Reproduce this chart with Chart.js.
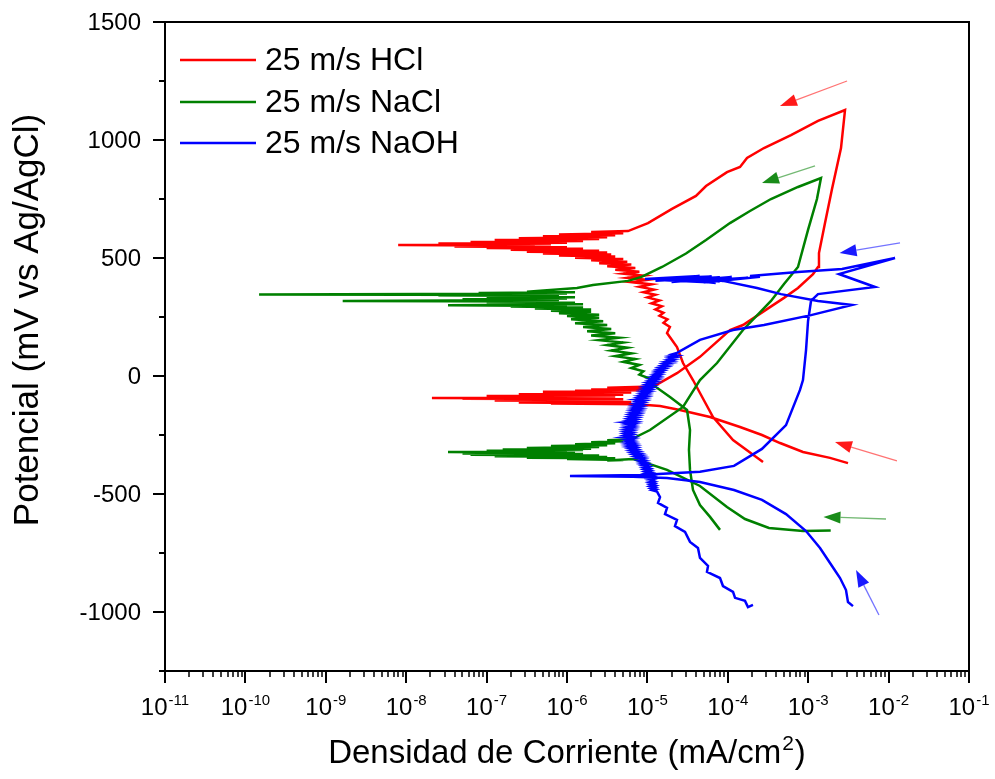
<!DOCTYPE html>
<html><head><meta charset="utf-8">
<script src="https://cdn.jsdelivr.net/npm/chart.js@4.4.0/dist/chart.umd.min.js"></script>
<style>html,body{margin:0;padding:0;background:#fff}#wrap{width:995px;height:779px}</style>
</head><body><div id="wrap"><canvas id="c" width="995" height="779"></canvas></div>
<script>
// ---- DATA (log10 of current density in mA/cm2, potential in mV vs Ag/AgCl) ----
const seriesNames = ['25 m/s HCl', '25 m/s NaCl', '25 m/s NaOH'];
const seriesColors = ['#FF0000', '#008000', '#0000FF'];

const hclPoints = [
[-2.505,-369],[-2.729,-347],[-3.065,-322],[-3.35,-284],[-3.575,-250],[-3.848,-216],[-4.221,-174],[-4.595,-144],[-4.843,-127],[-5.092,-121],
[-5.1,-120],[-6.2,-117],[-5.3,-115],[-6.6,-112],[-5.2,-110],[-6.0,-108],[-5.4,-106],[-6.9,-104],[-5.5,-102],[-6.4,-100],
[-5.3,-98],[-7.3,-96],[-5.6,-95],[-7.68,-93],[-5.7,-91],[-6.8,-89],[-5.4,-87],[-7.0,-85],[-5.6,-83],[-6.3,-81],
[-5.3,-79],[-6.6,-77],[-5.5,-75],[-6.0,-72],[-5.2,-70],[-6.3,-67],[-5.4,-65],[-5.9,-62],[-5.1,-60],[-5.7,-57],
[-5.0,-54],[-5.5,-50],[-4.93,-45],
[-4.85,-30],[-4.632,12],[-4.346,81],[-3.973,195],[-3.811,216],[-3.55,275],[-3.301,331],[-3.127,373],[-2.94,432],[-2.878,462],
[-2.866,521],[-2.791,648],[-2.704,792],[-2.592,966],[-2.542,1127],
[-2.878,1081],[-3.214,1021],[-3.55,966],[-3.761,924],[-3.848,886],[-4.01,864],[-4.271,805],[-4.396,763],[-4.694,708],[-4.993,648],
[-5.241,614],[-5.7,610],[-5.3,605],[-6.1,600],[-5.4,596],[-6.3,592],[-5.5,588],[-6.6,584],[-5.6,580],[-6.9,576],
[-5.8,572],[-7.2,568],[-6.0,565],[-7.6,561],[-6.2,558],[-8.1,555],[-6.4,552],[-7.4,549],[-6.0,546],[-7.0,542],
[-5.8,539],[-6.7,535],[-5.6,531],[-6.5,527],[-5.5,523],[-6.3,519],[-5.45,515],[-6.1,511],[-5.4,506],[-5.9,501],
[-5.3,496],[-5.7,490],[-5.25,484],[-5.6,478],[-5.2,472],[-5.5,465],[-5.15,458],[-5.4,450],[-5.1,442],[-5.3,434],
[-5.05,425],[-5.25,416],[-5.0,407],[-5.2,398],[-4.95,388],[-5.1,378],[-4.92,366],[-5.05,355],[-4.9,344],[-5.0,333],
[-4.85,320],[-4.95,308],[-4.82,295],[-4.9,282],[-4.8,268],[-4.85,255],[-4.75,240],[-4.8,225],[-4.72,208],[-4.756,182],
[-4.632,123],[-4.557,55],[-4.433,-17],[-4.346,-72],[-4.184,-174],[-3.935,-271],[-3.562,-364]
];

const naclPoints = [
[-2.72,-655],[-3.065,-657],[-3.488,-644],[-3.786,-606],[-4.01,-555],[-4.346,-466],[-4.756,-398],[-5.005,-369],[-5.179,-352],
[-5.5,-358],[-5.3,-356],[-6.0,-352],[-5.4,-349],[-6.5,-346],[-5.5,-343],[-6.9,-340],[-5.6,-337],[-7.2,-334],[-5.8,-331],
[-7.3,-328],[-5.9,-326],[-7.48,-322],[-6.0,-320],[-7.0,-317],[-5.8,-314],[-6.8,-311],[-5.7,-308],[-6.5,-305],[-5.6,-301],
[-6.2,-297],[-5.5,-293],[-5.9,-289],[-5.4,-285],[-5.7,-281],[-5.3,-277],[-5.5,-272],[-5.2,-268],
[-4.968,-229],[-4.557,-131],[-4.346,-17],[-4.134,55],[-3.811,195],[-3.463,318],[-3.301,390],[-3.127,462],[-3.002,619],[-2.891,750],[-2.841,839],
[-3.127,801],[-3.463,750],[-3.724,699],[-3.973,648],[-4.271,576],[-4.52,519],[-4.818,462],[-5.073,420],[-5.241,403],[-5.677,386],[-5.876,373],[-6.498,357],
[-5.9,355],[-7.1,352],[-6.0,350],[-6.8,348],[-9.83,345],[-6.2,343],[-7.6,341],[-6.1,339],[-7.0,336],[-5.9,334],
[-6.6,331],[-6.0,328],[-7.3,325],[-6.1,322],[-8.79,318],[-6.2,316],[-7.0,313],[-5.9,310],[-6.5,307],[-5.8,304],
[-7.48,300],[-6.0,297],[-6.7,294],[-5.8,290],[-6.4,286],[-5.7,282],[-6.2,277],[-5.7,272],[-6.1,266],[-5.6,260],
[-6.0,254],[-5.6,247],[-5.95,240],[-5.55,232],[-5.9,224],[-5.5,216],[-5.8,208],[-5.45,199],[-5.75,190],[-5.4,181],
[-5.7,172],[-5.35,162],[-5.6,152],[-5.3,142],[-5.5,131],[-5.25,120],[-5.45,108],[-5.2,96],[-5.4,84],[-5.15,72],
[-5.3,60],[-5.1,47],[-5.2,34],[-5.05,20],[-5.1,6],[-4.98,-10],[-4.93,-38],[-4.719,-89],
[-4.507,-144],[-4.47,-229],[-4.483,-313],[-4.47,-398],[-4.433,-483],[-4.346,-547],[-4.221,-597],[-4.097,-652]
];

const naohPoints = [
[-2.443,-975],[-2.505,-958],[-2.53,-907],[-2.604,-856],[-2.679,-818],[-2.853,-729],[-3.027,-657],[-3.276,-585],[-3.575,-525],[-3.923,-483],
[-4.346,-449],[-4.756,-432],[-5.179,-427],[-5.963,-424],[-5.092,-419],[-4.346,-406],[-3.923,-381],[-3.575,-309],[-3.276,-208],[-3.102,-59],
[-3.065,-17],[-3.027,110],[-3.002,233],[-2.965,318],[-2.878,347],[-2.169,377],[-2.617,432],[-1.92,500],
[-2.579,453],[-3.127,441],[-3.724,424],[-3.6,420],[-4.3,396],[-3.75,416],[-4.5,400],[-3.95,420],[-4.7,398],[-4.1,418],
[-4.9,404],[-4.2,422],[-5.03,411],[-4.35,424],[-4.85,407],[-4.25,397],[-4.7,414],[-4.15,394],[-4.55,417],[-4.1,400],
[-4.4,419],[-4.06,403],[-3.637,373],[-3.338,347],[-2.878,318],[-2.455,301],[-2.965,258],[-3.55,216],
[-3.935,195],[-4.346,153],[-4.632,98],
[-4.69,92],[-4.63,88],[-4.71,84],[-4.65,80],[-4.72,76],[-4.67,72],[-4.74,68],[-4.69,64],[-4.77,60],[-4.71,56],
[-4.79,52],[-4.74,48],[-4.81,44],[-4.76,40],[-4.84,36],[-4.79,32],[-4.86,28],[-4.81,24],[-4.88,20],[-4.83,16],
[-4.89,12],[-4.84,8],[-4.91,4],[-4.86,0],[-4.93,-4],[-4.87,-8],[-4.95,-12],[-4.89,-16],[-4.96,-20],[-4.9,-24],
[-4.99,-28],[-4.93,-32],[-5.0,-36],[-4.94,-40],[-5.02,-44],[-4.95,-48],[-5.03,-52],[-4.97,-56],[-5.05,-60],[-4.98,-64],
[-5.06,-68],[-5.0,-72],[-5.07,-76],[-5.01,-80],[-5.09,-84],[-5.02,-88],[-5.1,-92],[-5.04,-96],[-5.14,-100],[-5.05,-104],
[-5.12,-108],[-5.06,-112],[-5.14,-116],[-5.07,-120],[-5.15,-124],[-5.08,-128],[-5.16,-132],[-5.09,-136],[-5.17,-140],[-5.1,-144],
[-5.18,-148],[-5.11,-152],[-5.19,-156],[-5.12,-160],[-5.2,-164],[-5.13,-168],[-5.21,-172],[-5.14,-176],[-5.22,-180],[-5.15,-184],
[-5.23,-188],[-5.16,-192],[-5.28,-196],[-5.17,-200],[-5.25,-204],[-5.18,-208],[-5.25,-212],[-5.18,-216],[-5.26,-220],[-5.19,-224],
[-5.27,-228],[-5.2,-232],[-5.27,-236],[-5.2,-240],[-5.27,-244],[-5.2,-248],[-5.27,-252],[-5.2,-256],[-5.3,-260],[-5.19,-264],
[-5.26,-268],[-5.19,-272],[-5.25,-276],[-5.18,-280],[-5.25,-284],[-5.17,-288],[-5.24,-292],[-5.16,-296],[-5.23,-300],[-5.15,-304],
[-5.21,-308],[-5.14,-312],[-5.2,-316],[-5.12,-320],[-5.18,-324],[-5.1,-328],[-5.16,-332],[-5.08,-336],[-5.14,-340],[-5.06,-344],
[-5.12,-348],[-5.05,-352],[-5.1,-356],[-5.03,-360],[-5.08,-364],[-5.02,-368],[-5.07,-372],[-5.0,-376],[-5.05,-380],[-4.99,-384],
[-5.04,-388],[-4.98,-392],[-5.03,-396],[-4.97,-400],[-5.02,-404],[-4.96,-408],[-5.01,-412],[-4.95,-416],[-5.0,-420],[-4.94,-424],
[-4.99,-428],[-4.93,-432],[-4.98,-436],[-4.93,-440],[-4.97,-444],[-4.92,-448],[-4.97,-452],[-4.92,-456],[-4.96,-460],[-4.91,-464],
[-4.96,-468],[-4.91,-472],[-4.95,-476],[-4.9,-480],[-4.94,-484],[-4.88,-490],
[-4.843,-513],[-4.868,-538],[-4.756,-559],[-4.781,-585],[-4.632,-610],[-4.657,-636],[-4.532,-661],
[-4.47,-703],[-4.371,-729],[-4.346,-771],[-4.246,-805],[-4.259,-830],[-4.097,-856],[-4.06,-890],[-3.935,-915],[-3.91,-940],[-3.786,-953],
[-3.749,-979],[-3.687,-970]
];

// scan-direction arrows: [tail log10 I, tail E, tip log10 I, tip E, series index]
const arrowList = [
[-2.517,1250,-3.351,1144,0],
[-2.915,890,-3.575,818,1],
[-1.858,564,-2.61,521,2],
[-1.896,-360,-2.667,-280,0],
[-2.032,-606,-2.81,-597,1],
[-2.12,-1013,-2.405,-822,2]
];

const xDecadeExponents = [-11,-10,-9,-8,-7,-6,-5,-4,-3,-2,-1];
const yTickValues = [-1000,-500,0,500,1000,1500];
const yTickLabels = ['-1000','-500','0','500','1000','1500'];
const yMinorValues = [-1250,-750,-250,250,750,1250];
const xTitleParts = ['Densidad de Corriente (mA/cm', '2', ')'];
const yTitleText = 'Potencial (mV vs Ag/AgCl)';

// ---- CHART ----
const FONT = "'Liberation Sans', Arial, sans-serif";
const allSeries = [hclPoints, naclPoints, naohPoints];
const datasets = allSeries.map((pts, i) => ({
  label: seriesNames[i],
  data: pts.map(p => ({x: Math.pow(10, p[0]), y: p[1]})),
  borderColor: seriesColors[i],
  backgroundColor: seriesColors[i],
  borderWidth: 2.5,
  pointRadius: 0,
  showLine: true,
  tension: 0,
  order: 3 - i
}));

function rgba(hex, a) {
  const n = parseInt(hex.slice(1), 16);
  return 'rgba(' + ((n >> 16) & 255) + ',' + ((n >> 8) & 255) + ',' + (n & 255) + ',' + a + ')';
}

const decor = {
  id: 'decor',
  afterDraw(chart) {
    const {ctx, chartArea: a, scales: {x, y}} = chart;
    ctx.save();
    // arrows
    arrowList.forEach(ar => {
      const x1 = x.getPixelForValue(Math.pow(10, ar[0])), y1 = y.getPixelForValue(ar[1]);
      const x2 = x.getPixelForValue(Math.pow(10, ar[2])), y2 = y.getPixelForValue(ar[3]);
      const col = seriesColors[ar[4]];
      const ang = Math.atan2(y2 - y1, x2 - x1);
      const hl = 17, hw = 6;
      const bx = x2 - hl * Math.cos(ang), by = y2 - hl * Math.sin(ang);
      ctx.strokeStyle = rgba(col, 0.55); ctx.lineWidth = 1.3;
      ctx.beginPath(); ctx.moveTo(x1, y1); ctx.lineTo(bx, by); ctx.stroke();
      ctx.fillStyle = rgba(col, 0.9);
      ctx.beginPath(); ctx.moveTo(x2, y2);
      ctx.lineTo(bx + hw * Math.sin(ang), by - hw * Math.cos(ang));
      ctx.lineTo(bx - hw * Math.sin(ang), by + hw * Math.cos(ang));
      ctx.closePath(); ctx.fill();
    });
    // frame
    ctx.strokeStyle = '#000'; ctx.lineWidth = 2;
    ctx.strokeRect(a.left, a.top, a.right - a.left, a.bottom - a.top);
    // ticks
    ctx.beginPath();
    yTickValues.forEach(v => { const p = Math.round(y.getPixelForValue(v)); ctx.moveTo(a.left - 12, p); ctx.lineTo(a.left, p); });
    yMinorValues.forEach(v => { const p = Math.round(y.getPixelForValue(v)); ctx.moveTo(a.left - 6, p); ctx.lineTo(a.left, p); });
    xDecadeExponents.forEach(k => {
      const p = Math.round(x.getPixelForValue(Math.pow(10, k)));
      ctx.moveTo(p, a.bottom); ctx.lineTo(p, a.bottom + 12);
    });
    ctx.stroke();
    ctx.lineWidth = 1.5; ctx.beginPath();
    xDecadeExponents.slice(0, -1).forEach(k => {
      for (let m = 2; m <= 9; m++) {
        const p = Math.round(x.getPixelForValue(m * Math.pow(10, k)));
        ctx.moveTo(p, a.bottom); ctx.lineTo(p, a.bottom + 6);
      }
    });
    ctx.stroke();
    // y tick labels
    ctx.fillStyle = '#000'; ctx.font = '24px ' + FONT; ctx.textAlign = 'right'; ctx.textBaseline = 'middle';
    yTickValues.forEach((v, i) => { ctx.fillText(yTickLabels[i], a.left - 24, y.getPixelForValue(v) + 1); });
    // x tick labels with superscript exponents
    ctx.textBaseline = 'alphabetic'; ctx.textAlign = 'left';
    xDecadeExponents.forEach(k => {
      const p = x.getPixelForValue(Math.pow(10, k));
      const sup = String(k);
      ctx.font = '24px ' + FONT; const wb = ctx.measureText('10').width;
      ctx.font = '15px ' + FONT; const ws = ctx.measureText(sup).width;
      const x0 = p - (wb + ws + 1) / 2;
      ctx.font = '24px ' + FONT; ctx.fillText('10', x0, a.bottom + 44);
      ctx.font = '15px ' + FONT; ctx.fillText(sup, x0 + wb + 1, a.bottom + 34);
    });
    // x title
    ctx.font = '33px ' + FONT;
    const w1 = ctx.measureText(xTitleParts[0]).width, w3 = ctx.measureText(xTitleParts[2]).width;
    ctx.font = '21px ' + FONT; const w2 = ctx.measureText(xTitleParts[1]).width;
    const cx = (a.left + a.right) / 2, tx = cx - (w1 + w2 + w3 + 2) / 2, tb = a.bottom + 92;
    ctx.font = '33px ' + FONT; ctx.fillText(xTitleParts[0], tx, tb);
    ctx.font = '21px ' + FONT; ctx.fillText(xTitleParts[1], tx + w1 + 1, tb - 13);
    ctx.font = '33px ' + FONT; ctx.fillText(xTitleParts[2], tx + w1 + w2 + 2, tb);
    // y title
    ctx.save();
    ctx.translate(28, 320); ctx.rotate(-Math.PI / 2);
    ctx.font = '35px ' + FONT; ctx.textAlign = 'center'; ctx.textBaseline = 'middle';
    ctx.fillText(yTitleText, 0, 0);
    ctx.restore();
    // legend
    const ly = [38, 80, 121];
    seriesNames.forEach((nm, i) => {
      const yy = a.top + ly[i];
      ctx.strokeStyle = seriesColors[i]; ctx.lineWidth = 2.5;
      ctx.beginPath(); ctx.moveTo(a.left + 15, yy); ctx.lineTo(a.left + 91, yy); ctx.stroke();
      ctx.fillStyle = '#000'; ctx.font = '32px ' + FONT; ctx.textBaseline = 'middle'; ctx.textAlign = 'left';
      ctx.fillText(nm, a.left + 100, yy + 1);
    });
    ctx.restore();
  }
};

new Chart(document.getElementById('c'), {
  type: 'scatter',
  data: {datasets},
  options: {
    responsive: false,
    animation: false,
    devicePixelRatio: 1,
    layout: {padding: {top: 22, right: 26, bottom: 0, left: 0}},
    plugins: {legend: {display: false}, tooltip: {enabled: false}},
    scales: {
      x: {
        type: 'logarithmic', position: 'bottom', min: 1e-11, max: 1e-1,
        grid: {display: false, drawTicks: false, tickLength: 0},
        border: {display: false},
        ticks: {display: false},
        afterFit: s => { s.height = 108; }
      },
      y: {
        type: 'linear', position: 'left', min: -1250, max: 1500,
        grid: {display: false, drawTicks: false, tickLength: 0},
        border: {display: false},
        afterBuildTicks: s => { s.ticks = yTickValues.map(v => ({value: v})); },
        ticks: {display: false},
        title: {display: false},
        afterFit: s => { s.width = 165; }
      }
    }
  },
  plugins: [decor]
});
</script></body></html>
